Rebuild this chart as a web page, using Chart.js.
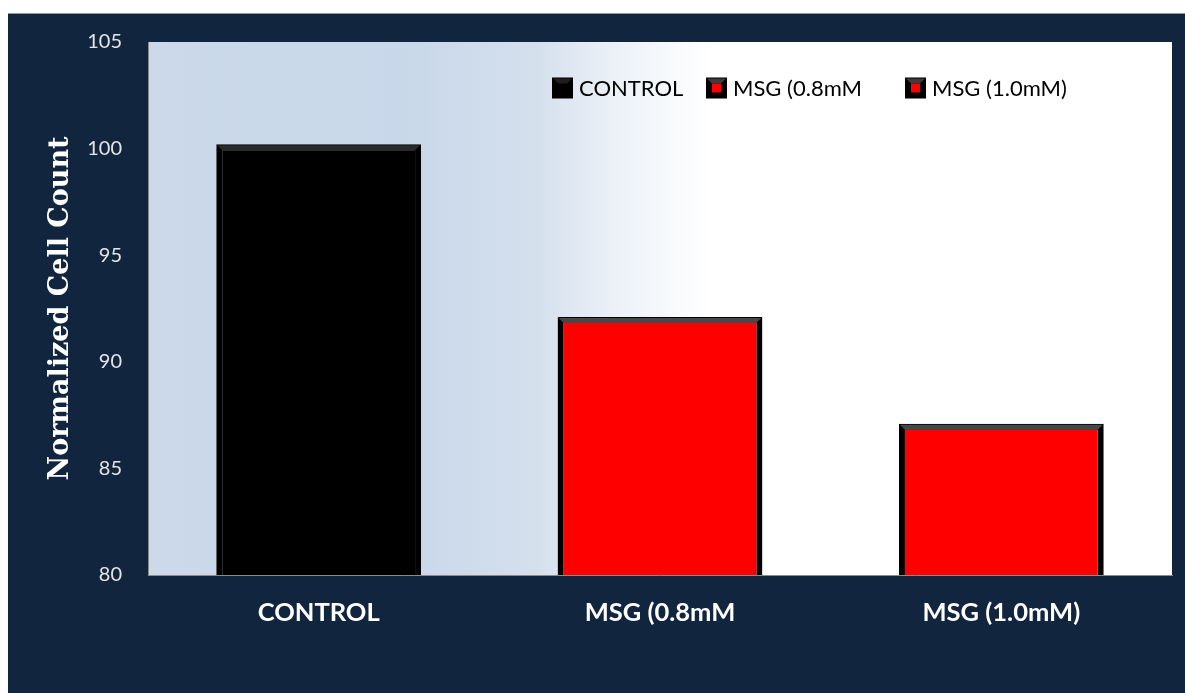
<!DOCTYPE html>
<html>
<head>
<meta charset="utf-8">
<script src="https://cdn.jsdelivr.net/npm/chart.js@4.4.1/dist/chart.umd.min.js"></script>
<style>
  html, body { margin: 0; padding: 0; background: #ffffff; }
  #wrap { position: absolute; left: 8px; top: 13px; width: 1177px; height: 680px;
          background: #12253f; border-top: 1px solid #8d99a8; box-sizing: border-box; }
</style>
</head>
<body>
<div id="wrap"><canvas id="chart"></canvas></div>
<script>
// values
const categories = ['CONTROL', 'MSG (0.8mM', 'MSG (1.0mM)'];
const cellCount = [100.2, 92.1, 87.1];
const yMin = 80, yMax = 105, yStep = 5;

const barColors = ['#000000', '#ff0000', '#ff0000'];
const bevelColors = ['#2a2a2a', '#474747', '#474747'];
// legend entry offsets from the left of the plot
const legendOffsets = [404, 558, 757];

// soft blue wash behind the bars
const plotBackground = {
  id: 'plotBackground',
  beforeDraw(chart) {
    const { ctx, chartArea: a } = chart;
    const g = ctx.createLinearGradient(a.left, 0, a.right, 0);
    g.addColorStop(0, '#cbd9ea');
    g.addColorStop(0.25, '#c8d7e9');
    g.addColorStop(0.38, '#d5e0ed');
    g.addColorStop(0.46, '#edf2f8');
    g.addColorStop(0.55, '#ffffff');
    g.addColorStop(1, '#ffffff');
    ctx.save();
    ctx.fillStyle = g;
    ctx.fillRect(a.left, a.top, a.right - a.left, a.bottom - a.top);
    ctx.restore();
  }
};

// grey bevel along the top of each bar
const barBevel = {
  id: 'barBevel',
  afterDatasetsDraw(chart) {
    const ctx = chart.ctx;
    chart.getDatasetMeta(0).data.forEach((bar, i) => {
      const l = bar.x - bar.width / 2, r = bar.x + bar.width / 2, t = bar.y;
      const b = 6;
      ctx.save();
      ctx.fillStyle = bevelColors[i];
      ctx.beginPath();
      ctx.moveTo(l + 1, t + 1);
      ctx.lineTo(r - 1, t + 1);
      ctx.lineTo(r - b, t + b);
      ctx.lineTo(l + b, t + b);
      ctx.closePath();
      ctx.fill();
      ctx.restore();
    });
  }
};

// legend drawn inside the plot, top right
const innerLegend = {
  id: 'innerLegend',
  afterDraw(chart) {
    const { ctx, chartArea: a } = chart;
    const size = 21;
    const cy = a.top + 46;
    ctx.save();
    ctx.font = '22px Lato';
    ctx.textBaseline = 'middle';
    categories.forEach((name, i) => {
      const x = a.left + legendOffsets[i];
      const top = cy - size / 2;
      ctx.fillStyle = '#000000';
      ctx.fillRect(x, top, size, size);
      ctx.fillStyle = i === 0 ? '#1e1e1e' : '#3c3c3c';
      ctx.beginPath();
      ctx.moveTo(x + 1, top + 1);
      ctx.lineTo(x + size - 1, top + 1);
      ctx.lineTo(x + size - 6, top + 6);
      ctx.lineTo(x + 6, top + 6);
      ctx.closePath();
      ctx.fill();
      if (i > 0) {
        ctx.fillStyle = barColors[i];
        ctx.fillRect(x + 6, top + 6, size - 12, size - 12);
      }
      ctx.fillStyle = '#000000';
      ctx.fillText(name, x + size + 6, cy + 1);
    });
    ctx.restore();
  }
};

new Chart(document.getElementById('chart'), {
  type: 'bar',
  data: {
    labels: categories,
    datasets: [{
      data: cellCount,
      backgroundColor: barColors,
      borderColor: '#000000',
      borderWidth: 6,
      categoryPercentage: 0.6,
      barPercentage: 1
    }]
  },
  options: {
    responsive: true,
    maintainAspectRatio: false,
    animation: false,
    layout: { padding: { top: 28, right: 13, left: 0, bottom: 0 } },
    plugins: {
      legend: { display: false },
      tooltip: { enabled: false }
    },
    scales: {
      x: {
        grid: { display: false, drawTicks: false },
        border: { color: '#8a8a8a', width: 1 },
        ticks: {
          color: '#ffffff',
          padding: 22,
          font: { family: 'Lato', size: 25.5, weight: 'bold' }
        },
        afterFit(s) { s.height = 118; }
      },
      y: {
        min: yMin,
        max: yMax,
        grid: { display: false, drawTicks: false },
        border: { color: '#8a8a8a', width: 1 },
        ticks: {
          stepSize: yStep,
          color: '#e4e4e4',
          padding: 26,
          font: { family: 'Lato', size: 20 }
        },
        title: {
          display: true,
          text: 'Normalized Cell Count',
          color: '#ffffff',
          padding: { top: 37, bottom: 0 },
          font: { family: 'DejaVu Serif', size: 27, weight: 'bold' }
        },
        afterFit(s) {
          s.width = 140;
          s.paddingTop = 12;
          s.paddingBottom = 12;
        }
      }
    }
  },
  plugins: [plotBackground, barBevel, innerLegend]
});
</script>
</body>
</html>
